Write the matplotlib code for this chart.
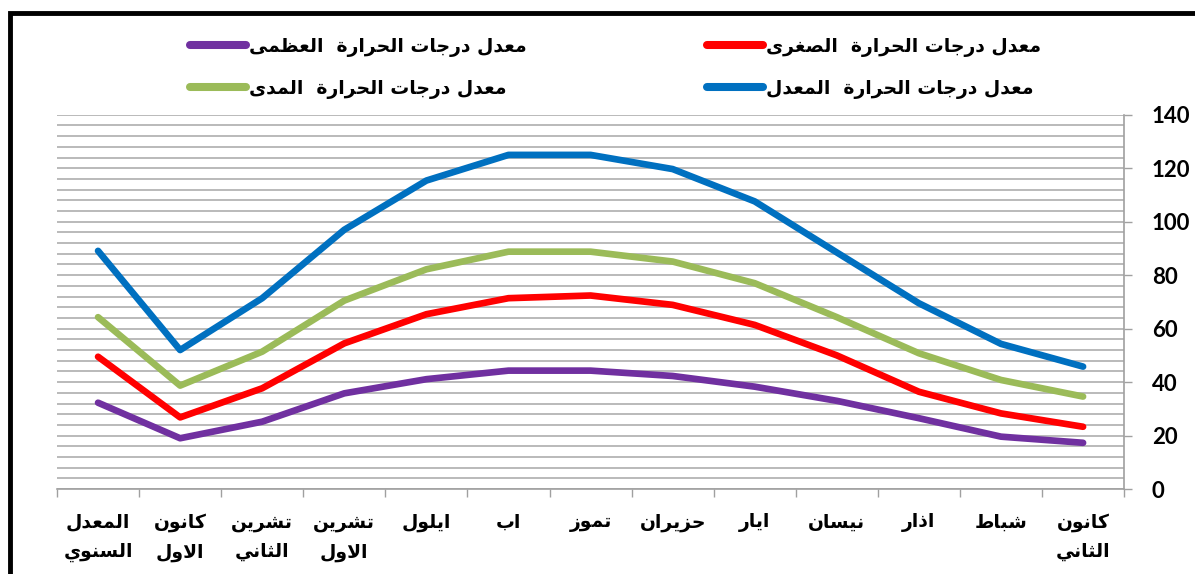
"""Monthly temperature averages chart (Arabic labels, right-to-left category axis)."""

import matplotlib
matplotlib.use("Agg")
import matplotlib.pyplot as plt
from matplotlib.patches import Rectangle
from matplotlib.ticker import MultipleLocator

# Data, from January to December and then the annual mean
months = [
    "كانون\nالثاني", "شباط", "اذار", "نيسان", "ايار", "حزيران", "تموز",
    "اب", "ايلول", "تشرين\nالاول", "تشرين\nالثاني", "كانون\nالاول", "المعدل\nالسنوي",
]
mean_vals = [45.8, 54.3, 69.5, 88.5, 107.6, 119.7, 125.0, 125.0, 115.4, 97.0, 71.4, 52.0, 89.1]
range_vals = [34.6, 40.8, 50.8, 64.3, 77.0, 85.1, 88.8, 88.8, 82.2, 70.5, 51.4, 38.7, 64.3]
min_vals = [23.3, 28.3, 36.4, 50.0, 61.4, 68.9, 72.4, 71.4, 65.4, 54.5, 37.7, 26.8, 49.5]
max_vals = [17.3, 19.6, 26.5, 33.0, 38.3, 42.3, 44.3, 44.3, 41.1, 35.8, 25.2, 19.0, 32.3]

series_names = [
    "معدل درجات الحرارة  العظمى",
    "معدل درجات الحرارة  المدى",
    "معدل درجات الحرارة  الصغرى",
    "معدل درجات الحرارة  المعدل",
]
y_ticks = [0, 20, 40, 60, 80, 100, 120, 140]

# matplotlib has no Arabic shaping, so map letters to presentation forms
# (isolated code point, joins to the following letter)
FORMS = {
    "ا": (0xFE8D, False), "ب": (0xFE8F, True), "ة": (0xFE93, False), "ت": (0xFE95, True),
    "ث": (0xFE99, True), "ج": (0xFE9D, True), "ح": (0xFEA1, True), "د": (0xFEA9, False),
    "ذ": (0xFEAB, False), "ر": (0xFEAD, False), "ز": (0xFEAF, False), "س": (0xFEB1, True),
    "ش": (0xFEB5, True), "ص": (0xFEB9, True), "ط": (0xFEC1, True), "ظ": (0xFEC5, True),
    "ع": (0xFEC9, True), "غ": (0xFECD, True), "ك": (0xFED9, True), "ل": (0xFEDD, True),
    "م": (0xFEE1, True), "ن": (0xFEE5, True), "و": (0xFEED, False), "ى": (0xFEEF, False),
    "ي": (0xFEF1, True), "لا": (0xFEFB, False),
}


def shape_word(word):
    letters = []
    i = 0
    while i < len(word):
        if word[i] == "ل" and i + 1 < len(word) and word[i + 1] == "ا":
            letters.append("لا")
            i += 2
        else:
            letters.append(word[i])
            i += 1
    glyphs = []
    for j, ch in enumerate(letters):
        if ch not in FORMS:
            glyphs.append(ch)
            continue
        base, dual = FORMS[ch]
        prev = j > 0 and letters[j - 1] in FORMS and FORMS[letters[j - 1]][1]
        nxt = dual and j + 1 < len(letters) and letters[j + 1] in FORMS
        if prev and nxt:
            code = base + 3
        elif prev:
            code = base + 1
        elif nxt:
            code = base + 2
        else:
            code = base
        glyphs.append(chr(code))
    return "".join(glyphs)


def ar(text):
    lines = []
    for line in text.split("\n"):
        lines.append(" ".join(shape_word(w) for w in line.split(" "))[::-1])
    return "\n".join(lines)


plt.rcParams["font.family"] = ["DejaVu Sans"]

fig = plt.figure(figsize=(11.95, 5.74), dpi=100)
ax = fig.add_axes([0.0477, 0.148, 0.893, 0.652])

x = list(range(len(months)))
colors = ["#7030A0", "#9BBB59", "#FF0000", "#0070C0"]
handles = []
for vals, color in zip([max_vals, range_vals, min_vals, mean_vals], colors):
    (ln,) = ax.plot(x, vals, color=color, lw=4.8, solid_capstyle="round",
                    solid_joinstyle="round", zorder=3)
    handles.append(ln)

ax.set_xlim(12.5, -0.5)
ax.set_ylim(0, 140)

# y axis on the right, minor grid every 4
ax.yaxis.tick_right()
ax.set_yticks(y_ticks)
ax.yaxis.set_minor_locator(MultipleLocator(4))
ax.grid(axis="y", which="both", color="#b4b4b4", lw=1.3, zorder=0)
ax.tick_params(axis="y", which="major", length=6, width=1, color="#a0a0a0",
               pad=14, labelsize=16)
ax.tick_params(axis="y", which="minor", length=0)
for lab in ax.get_yticklabels():
    lab.set_fontfamily("Lato")
    lab.set_fontweight("bold")

ax.set_xticks(x)
ax.set_xticklabels([ar(m) for m in months], fontsize=13.5, fontweight="bold",
                   linespacing=1.7, va="top")
ax.set_xticks([i - 0.5 for i in range(len(months) + 1)], minor=True)
ax.tick_params(axis="x", which="major", length=0, pad=17)
ax.tick_params(axis="x", which="minor", length=6, width=1, color="#a0a0a0")

for side in ["top", "left"]:
    ax.spines[side].set_visible(False)
for side in ["right", "bottom"]:
    ax.spines[side].set_color("#a0a0a0")
    ax.spines[side].set_linewidth(1.2)

fig.legend(handles, [ar(s) for s in series_names], ncol=2, loc="upper center",
           bbox_to_anchor=(0.515, 0.965), frameon=False, handlelength=3.0,
           handletextpad=0.15, columnspacing=9.6, labelspacing=1.15,
           prop={"size": 13.5, "weight": "bold"})
for h in fig.legends[0].legend_handles:
    h.set_linewidth(5.8)

# black frame, only top and left edges are inside the picture
fig.add_artist(Rectangle((10 / 1195, -0.2), 1.2, 1.2 - 13 / 574,
                         transform=fig.transFigure, fill=False, ec="black",
                         lw=3.5, zorder=10))

fig.savefig("out.png", dpi=100, facecolor="white")
